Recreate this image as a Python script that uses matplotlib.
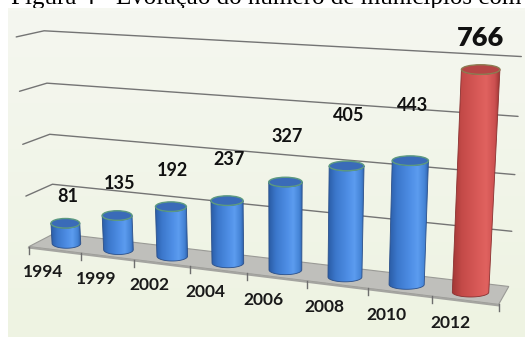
import numpy as np
import matplotlib
matplotlib.use('Agg')
import matplotlib.pyplot as plt
from matplotlib.patches import Polygon, Ellipse
from matplotlib.colors import LinearSegmentedColormap

# data
anos = ['1994', '1999', '2002', '2004', '2006', '2008', '2010', '2012']
municipios = [81, 135, 192, 237, 327, 405, 443, 766]
destaque = [False, False, False, False, False, False, False, True]
grade = [200, 400, 600, 800]
titulo = 'Figura 4 - Evolução do número de municípios com'

# perspective calibration: world (categoria, profundidade, valor) -> pixel
calib_mundo = [(-0.5, 0, 0), (-0.5, 1, 0), (7.5, 0, 0), (7.5, 1, 0),
               (-0.5, 0, 800), (7.5, 0, 800), (-0.5, 1, 800),
               (-0.5, 0, 200), (-0.5, 1, 200), (-0.5, 0, 600), (-0.5, 1, 600),
               (7.5, 0, 200), (7.5, 0, 400), (7.5, 0, 600),
               (0, .5, 81), (1, .5, 135), (2, .5, 192), (3, .5, 237),
               (4, .5, 327), (5, .5, 405), (6, .5, 443), (7, .5, 766)]
calib_pixel = [(53, 237), (28, 248), (508, 286), (499, 304),
               (43, 31), (521, 55), (15, 38),
               (55, 182), (27, 195), (48, 82), (20, 92),
               (513, 232), (515, 175), (517, 118),
               (67, 222), (118, 213), (172, 205), (228, 199),
               (286, 182), (347, 165), (410, 160), (483, 70)]


def fit_camera(mundo, pixel):
    A = []
    for (X, Y, Z), (u, v) in zip(mundo, pixel):
        Z = Z / 100.0
        u = u / 100.0
        v = v / 100.0
        A.append([X, Y, Z, 1, 0, 0, 0, 0, -u * X, -u * Y, -u * Z, -u])
        A.append([0, 0, 0, 0, X, Y, Z, 1, -v * X, -v * Y, -v * Z, -v])
    _, _, Vt = np.linalg.svd(np.array(A))
    return Vt[-1].reshape(3, 4)


P = fit_camera(calib_mundo, calib_pixel)


def proj(X, Y, Z):
    h = P @ np.array([X, Y, Z / 100.0, 1.0])
    return h[0] / h[2] * 100.0, h[1] / h[2] * 100.0


W, H = 525, 337
fig = plt.figure(figsize=(W / 100, H / 100), dpi=100)
ax = fig.add_axes([0, 0, 1, 1])
ax.set_xlim(0, W)
ax.set_ylim(H, 0)
ax.axis('off')

# caption, cut at the top like in the scan
ax.text(11, 4, titulo, fontsize=18, family='Liberation Serif',
        va='baseline', ha='left', color='black', zorder=0)

# panel background
bg = LinearSegmentedColormap.from_list('bg', ['#f5f7f0', '#eef3e2'])
ax.imshow(np.linspace(0, 1, 100).reshape(-1, 1), cmap=bg, aspect='auto',
          extent=(8, W, H, 8), zorder=1)

x0, x1 = -0.5, len(anos) - 0.5

# back wall and side wall grid lines
for g in grade:
    a = proj(x0, 1, g)
    b = proj(x0, 0, g)
    c = proj(x1, 0, g)
    ax.plot([a[0], b[0], c[0]], [a[1], b[1], c[1]], color='#747474',
            lw=1.0, zorder=2, solid_capstyle='round')

# floor
piso = [proj(x0, 0, 0), proj(x1, 0, 0), proj(x1, 1, 0), proj(x0, 1, 0)]
ax.add_patch(Polygon(piso, closed=True, facecolor='#bfbfbb',
                     edgecolor='#9a9a96', lw=0.8, zorder=3))
f0 = proj(x0, 1, 0)
f1 = proj(x1, 1, 0)
ax.plot([f0[0], f1[0]], [f0[1] + 1, f1[1] + 1], color='#a4a4a0', lw=1.5, zorder=3)
for k in range(len(anos) + 1):
    t = proj(x0 + k, 1, 0)
    ax.plot([t[0], t[0]], [t[1], t[1] + 7], color='#6e6e6e', lw=1, zorder=3)

azul = LinearSegmentedColormap.from_list('azul', [
    (0, '#2b5da6'), (0.2, '#3b77cb'), (0.55, '#4f8fe6'),
    (0.72, '#5c9cef'), (0.9, '#4584d6'), (1, '#2d5fa8')])
vermelho = LinearSegmentedColormap.from_list('verm', [
    (0, '#a23836'), (0.2, '#c44a48'), (0.55, '#d95a58'),
    (0.72, '#e0625f'), (0.9, '#cc5050'), (1, '#9e3634')])

r = 0.28
yb = 0.55
eh = 4.8
for i, (ano, v) in enumerate(zip(anos, municipios)):
    bl = proj(i - r, yb, 0)
    br = proj(i + r, yb, 0)
    tl = proj(i - r, yb, v)
    tr = proj(i + r, yb, v)
    bc = ((bl[0] + br[0]) / 2, (bl[1] + br[1]) / 2)
    tc = ((tl[0] + tr[0]) / 2, (tl[1] + tr[1]) / 2)
    wb = br[0] - bl[0]
    wt = tr[0] - tl[0]
    t = np.linspace(0, np.pi, 40)
    bot = np.column_stack([bc[0] - wb / 2 * np.cos(t), bc[1] + eh * np.sin(t)])
    top = np.column_stack([tc[0] + wt / 2 * np.cos(t), tc[1] + eh * np.sin(t)])
    corpo = np.vstack([bot, top])
    cmap = vermelho if destaque[i] else azul
    poly = Polygon(corpo, closed=True, facecolor='none',
                   edgecolor='#2a4f8a' if not destaque[i] else '#8a3030',
                   lw=0.6, zorder=5)
    ax.add_patch(poly)
    left = min(bl[0], tl[0])
    right = max(br[0], tr[0])
    im = ax.imshow(np.linspace(0, 1, 64).reshape(1, -1), cmap=cmap,
                   aspect='auto', extent=(left, right, bc[1] + eh + 1, tc[1] - eh - 1),
                   zorder=4)
    im.set_clip_path(poly)
    topo = Ellipse(tc, wt, 2 * eh,
                   facecolor='#b54646' if destaque[i] else '#3a6bb8',
                   edgecolor='#8c7c52' if destaque[i] else '#5d9a80',
                   lw=1.0, zorder=6)
    ax.add_patch(topo)

    # value labels
    if destaque[i]:
        ax.text(tc[0], tc[1] - 32, str(v), fontsize=19.5, fontweight='heavy',
                family='Lato', ha='center', va='center', color='#111111', zorder=7)
    else:
        ax.text(tc[0] + 2, tc[1] - 27 - 4.7 * i, str(v), fontsize=13,
                fontweight='bold', family='Lato', ha='center', va='center',
                color='#111111', zorder=7)

    # year labels
    p = proj(i - 0.22, 1, 0)
    ax.text(p[0], p[1] + 24, ano, fontsize=12.5, fontweight='bold', family='Lato',
            ha='center', va='center', color='#1a1a1a', zorder=7)

fig.savefig('out.png', dpi=100)
